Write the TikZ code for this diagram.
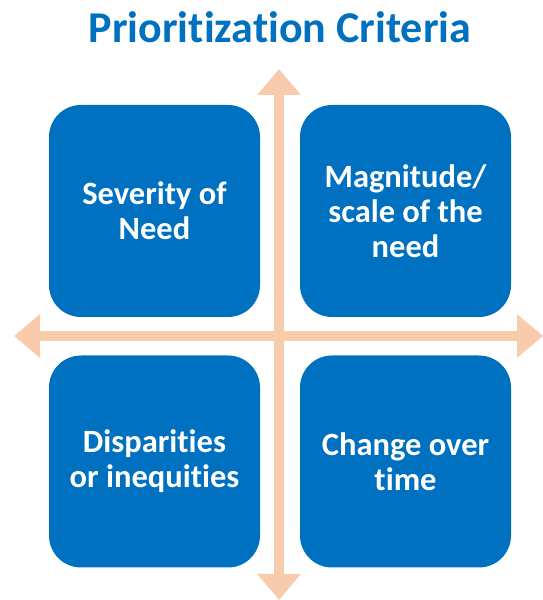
\documentclass[tikz,border=0pt]{standalone}
\usepackage{fontspec}
\setmainfont[Ligatures=CommonOff]{Carlito}
\usetikzlibrary{arrows.meta}
\definecolor{critblue}{HTML}{0070C0}
\definecolor{peach}{HTML}{F8CBAD}
\tikzset{
    critbox/.style={fill=critblue, rounded corners=32pt, minimum width=211pt, minimum height=212pt, inner sep=0pt,
        text=white, align=center, font=\fontsize{32.5}{35}\selectfont\bfseries},
    axisarrow/.style={draw=peach, line width=9.5pt, {Triangle[width=42pt,length=26pt]}-{Triangle[width=42pt,length=26pt]}}
}
\begin{document}
\begin{tikzpicture}[x=1pt, y=1pt]
    \useasboundingbox (0,0) rectangle (543,600) ;
    \node [anchor=base, text=critblue, font=\fontsize{44}{50}\selectfont\bfseries] (title) at (280,557) {Prioritization Criteria} ;
    \coordinate (west) at (14,264) ;
    \coordinate (east) at (543,264) ;
    \coordinate (north) at (279,531) ;
    \coordinate (south) at (279,0) ;
    \draw [axisarrow] (west) -- (east) ;
    \draw [axisarrow] (south) -- (north) ;
    \node [critbox] (severity) at (154.5,389) {Severity of\\Need} ;
    \node [critbox] (magnitude) at (405.5,389) {Magnitude/\\scale of the\\need} ;
    \node [critbox] (disparities) at (154.5,138.5) {Disparities\\or inequities} ;
    \node [critbox] (change) at (405.5,138.5) {Change over\\time} ;
\end{tikzpicture}
\end{document}
